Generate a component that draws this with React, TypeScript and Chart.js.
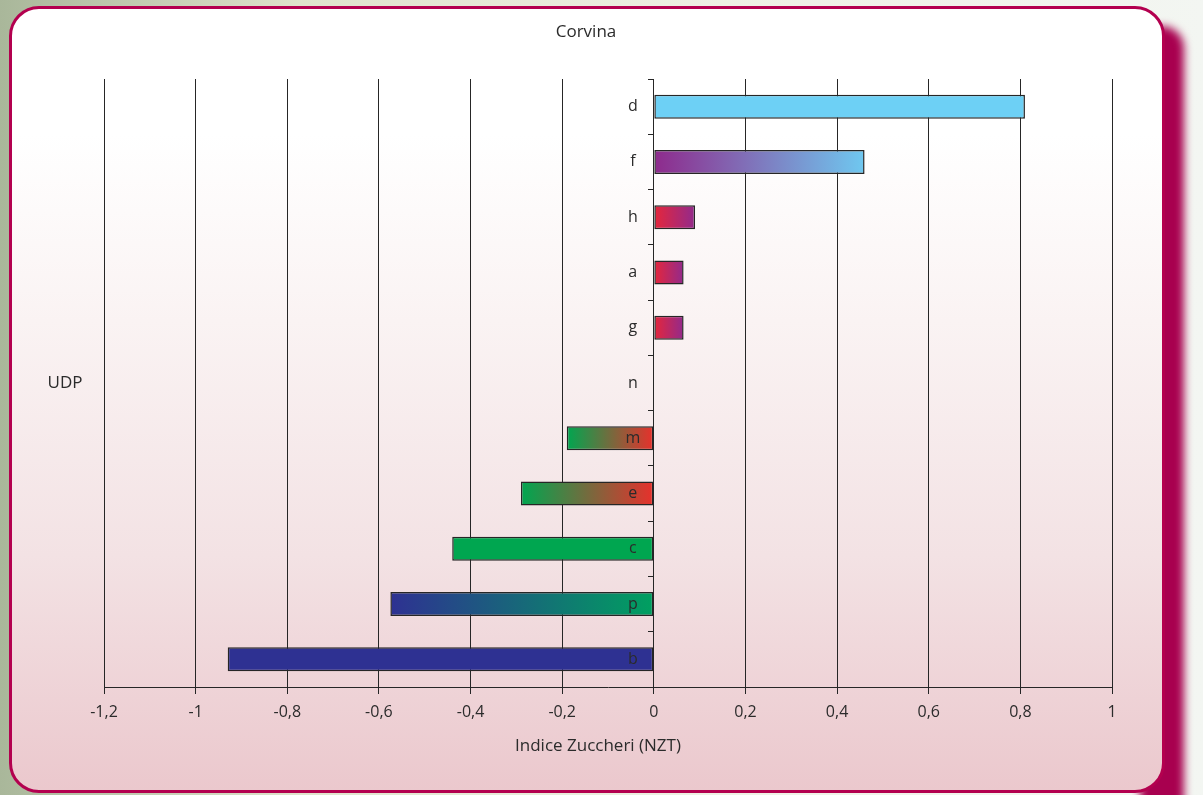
import React, { useEffect, useRef } from "react";
import { Chart, registerables } from "chart.js";

Chart.register(...registerables);

const categories = ["d", "f", "h", "a", "g", "n", "m", "e", "c", "p", "b"];
const values = [0.81, 0.46, 0.09, 0.065, 0.065, 0, -0.19, -0.29, -0.44, -0.575, -0.93];
const leftColors = ["#6dd0f5", "#8e2a8c", "#e6263a", "#e6263a", "#e6263a", "#e6263a", "#00a650", "#00a650", "#00a650", "#2e3192", "#2e3192"];
const rightColors = ["#6dd0f5", "#6fc8f0", "#922a8c", "#922a8c", "#922a8c", "#922a8c", "#e8302c", "#e8302c", "#00a650", "#00a060", "#2e3192"];
const xTicks = { min: -1.2, max: 1, step: 0.2 };
const chartTitle = "Corvina";
const xTitle = "Indice Zuccheri (NZT)";
const yTitle = "UDP";

const FONT = "'Open Sans', sans-serif";
const TEXT = "#2b2b2b";

const textPlugin = {
  id: "texts",
  afterDatasetsDraw(chart: any) {
    const ctx = chart.ctx;
    const xs = chart.scales.x;
    const ys = chart.scales.y;
    ctx.save();
    ctx.fillStyle = TEXT;
    ctx.font = `16px ${FONT}`;
    ctx.textAlign = "center";
    ctx.textBaseline = "middle";
    const zero = xs.getPixelForValue(0);
    categories.forEach((c, i) => {
      ctx.fillText(c, zero - 21, ys.getPixelForValue(i));
    });
    ctx.font = `17px ${FONT}`;
    ctx.fillText(chartTitle, 586, 32);
    ctx.fillText(xTitle, 598, 746);
    ctx.fillText(yTitle, 65, 383);
    ctx.restore();
  },
};

export default function App() {
  const ref = useRef<HTMLCanvasElement | null>(null);
  useEffect(() => {
    if (!ref.current) return;
    const chart = new Chart(ref.current, {
      type: "bar",
      data: {
        labels: categories,
        datasets: [
          {
            data: values,
            backgroundColor: (ctx: any) => {
              const c = ctx.chart;
              const i = ctx.dataIndex;
              const xs = c.scales.x;
              if (!xs || i === undefined) return leftColors[0];
              const v = values[i];
              const a = xs.getPixelForValue(Math.min(0, v));
              const b = xs.getPixelForValue(Math.max(0, v));
              if (!isFinite(a) || !isFinite(b) || a === b) return leftColors[i];
              const g = c.ctx.createLinearGradient(a, 0, b, 0);
              g.addColorStop(0, leftColors[i]);
              g.addColorStop(1, rightColors[i]);
              return g;
            },
            borderColor: "#262626",
            borderWidth: 1.5,
            borderSkipped: false,
            barPercentage: 0.434,
            categoryPercentage: 1,
          },
        ],
      },
      options: {
        indexAxis: "y",
        animation: false,
        responsive: false,
        maintainAspectRatio: false,
        layout: { padding: { left: 104, right: 91, top: 79, bottom: 0 } },
        plugins: { legend: { display: false }, title: { display: false }, tooltip: { enabled: false } },
        scales: {
          x: {
            type: "linear",
            min: xTicks.min,
            max: xTicks.max,
            afterFit: (s: any) => {
              s.height = 108;
            },
            ticks: {
              stepSize: xTicks.step,
              color: TEXT,
              font: { family: FONT, size: 16 },
              padding: 9,
              callback: (v: any) => String(Math.round(Number(v) * 10) / 10).replace(".", ","),
            },
            grid: { color: "#262626", lineWidth: 1, tickLength: 7, drawTicks: true },
            border: { display: true, color: "#262626", width: 1 },
          },
          y: {
            type: "category",
            position: { x: 0 } as any,
            offset: true,
            ticks: { display: false },
            grid: { drawOnChartArea: false, drawTicks: true, tickLength: 5, offset: true, color: "#262626" },
            border: { display: true, color: "#262626", width: 1 },
          },
        },
      } as any,
      plugins: [textPlugin],
    });
    return () => chart.destroy();
  }, []);

  return (
    <div
      style={{
        position: "fixed",
        left: 0,
        top: 0,
        width: 1203,
        height: 795,
        overflow: "hidden",
        background: "linear-gradient(90deg, #a9b79a 0%, #dfe3cc 25%, #eef0e4 60%, #f3f6f2 100%)",
      }}
    >
      <div
        style={{
          position: "absolute",
          left: 1140,
          top: 26,
          width: 44,
          height: 820,
          background: "#a8004f",
          borderRadius: 22,
          filter: "blur(4px)",
        }}
      />
      <div
        style={{
          position: "absolute",
          left: 9,
          top: 6,
          width: 1156,
          height: 787,
          boxSizing: "border-box",
          border: "3px solid #b3004f",
          borderRadius: 30,
          background: "linear-gradient(180deg, #ffffff 0%, #ffffff 16%, #faf3f3 40%, #f3e2e4 70%, #ebc8cd 100%)",
        }}
      />
      <canvas ref={ref} width={1203} height={795} style={{ position: "absolute", left: 0, top: 0, width: 1203, height: 795 }} />
    </div>
  );
}
